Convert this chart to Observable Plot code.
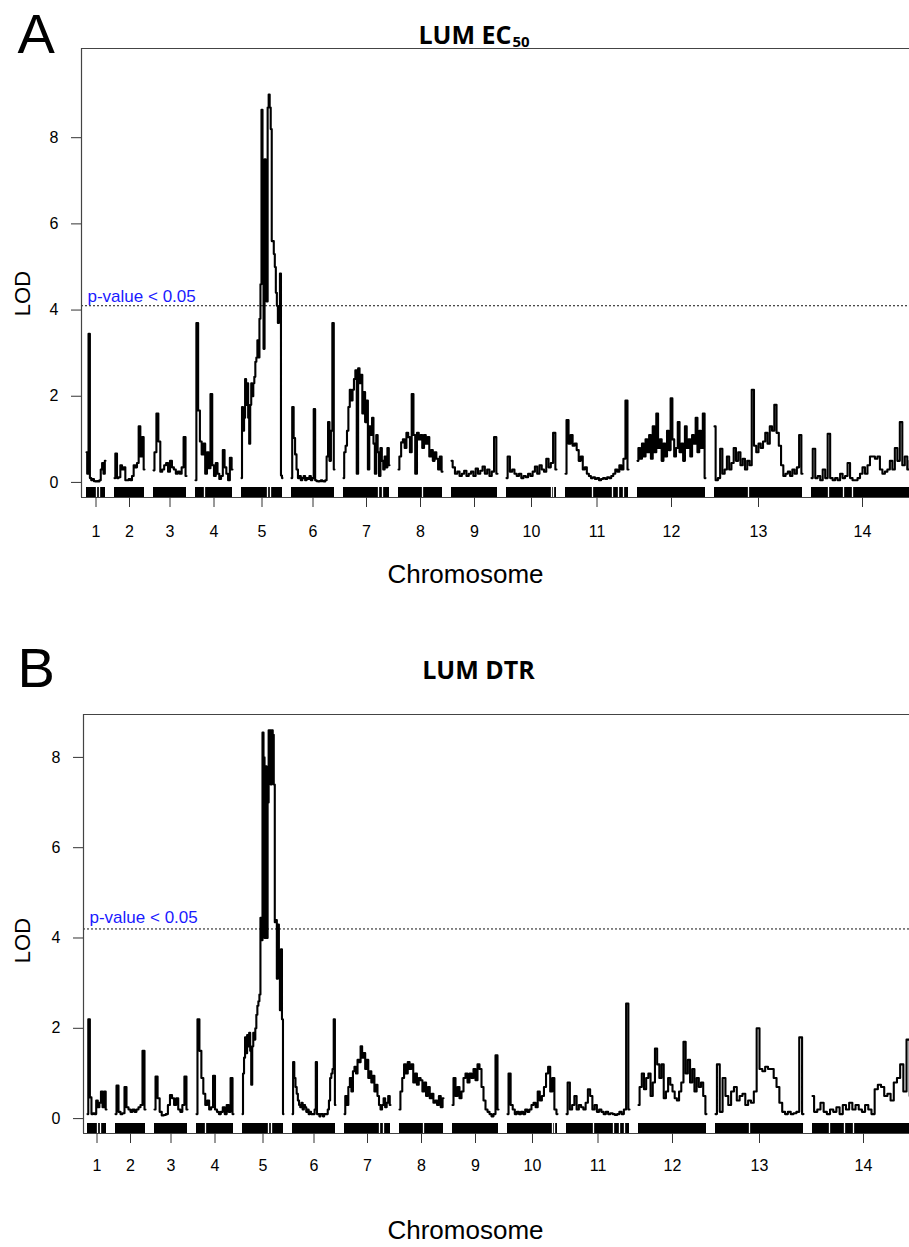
<!DOCTYPE html>
<html><head><meta charset="utf-8">
<script src="https://cdn.jsdelivr.net/npm/d3@7"></script>
<script src="https://cdn.jsdelivr.net/npm/@observablehq/plot@0.6"></script>
<style>
body{margin:0;background:#fff;overflow:hidden;width:909px;height:1247px}
#root{position:relative;width:909px;height:1247px;background:#fff}
svg{display:block}
</style></head><body><div id="root"></div>
<script>
// ---- genetic map ----
const chromosomes = ["1","2","3","4","5","6","7","8","9","10","11","12","13","14"];
const chromLength = [19, 30, 33, 37, 41, 43, 46, 44, 46, 50, 63, 68, 88, 102];
const chromGap = 9;
// gaps in the marker rug (chromosome, position within chromosome)
const gapChrom = [1, 1, 4, 5, 5, 7, 7, 8, 10, 10, 11, 11, 11, 11, 13, 14, 14, 14];
const gapPos   = [10, 13, 9, 26, 29, 35, 39, 24, 45, 47, 27, 47, 53, 58, 34, 17, 32, 41];

// ---- thresholds ----
const thresholdEC50 = 4.1;
const thresholdDTR = 4.2;
const yTicks = [0, 2, 4, 6, 8];

// ---- LOD scores, LUM EC50 (one list per chromosome, markers evenly spread) ----
const lodEC50 = [
  [0.7, 0.2, 3.45, 0.1, 0.05, 0.08, 0.03, 0.02, 0.03, 0.02, 0.05, 0.3, 0.45, 0.2, 0.5],
  [0.1, 0.67, 0.1, 0.12, 0.4, 0.3, 0.35, 0.05, 0.05, 0.08, 0.05, 0.15, 0.4, 0.35, 0.45, 1.3, 0.6, 1.05, 0.3],
  [0.28, 0.7, 1.6, 0.95, 0.25, 0.3, 0.4, 0.45, 0.25, 0.5, 0.35, 0.3, 0.2, 0.25, 0.2, 0.35, 1.05, 0.15],
  [0.05, 3.7, 1.67, 0.95, 0.65, 0.9, 0.2, 0.7, 0.33, 2.05, 0.4, 0.15, 0.45, 0.2, 0.08, 0.15, 0.75, 0.35, 0.2, 0.05, 0.57, 0.3],
  [0.1, 1.75, 1.2, 1.5, 2.4, 1.8, 2.3, 1.5, 0.9, 1.8, 2.3, 2.0, 2.3, 2.45, 2.8, 2.9, 3.3, 2.9, 3.8, 4.6, 8.65, 5.5, 3.1, 7.5, 5.9, 4.2, 8.7, 9.0, 8.7, 8.2, 5.6, 5.6, 5.3, 5.0, 4.4, 4.1, 3.7, 3.8, 4.85, 0.16, 0.1],
  [0.1, 1.75, 1.03, 0.65, 0.3, 0.1, 0.15, 0.05, 0.1, 0.15, 0.05, 0.1, 0.08, 0.15, 0.05, 0.1, 1.7, 0.05, 0.03, 0.02, 0.03, 0.05, 0.03, 0.02, 0.05, 0.6, 1.4, 0.5, 1.2, 3.7, 0.3],
  [0.1, 0.7, 0.85, 1.2, 1.75, 2.15, 1.9, 2.15, 2.4, 2.6, 0.2, 2.65, 2.3, 2.5, 1.6, 2.1, 1.4, 1.9, 0.3, 1.3, 1.1, 1.5, 0.9, 0.2, 1.1, 0.7, 0.15, 0.8, 0.5, 0.3, 0.6, 0.35, 0.8, 0.4],
  [0.3, 0.6, 0.93, 1.0, 0.8, 1.15, 1.05, 0.7, 2.05, 1.1, 0.2, 1.15, 1.0, 1.1, 0.8, 1.1, 0.9, 1.05, 0.6, 0.75, 0.5, 0.7, 0.55, 0.3, 0.6, 0.25],
  [0.5, 0.35, 0.2, 0.25, 0.15, 0.2, 0.27, 0.15, 0.2, 0.25, 0.15, 0.32, 0.2, 0.27, 0.37, 0.2, 0.3, 0.15, 0.25, 1.05, 0.2],
  [0.1, 0.6, 0.25, 0.3, 0.2, 0.15, 0.2, 0.1, 0.15, 0.12, 0.2, 0.15, 0.25, 0.37, 0.2, 0.4, 0.3, 0.25, 0.55, 0.35, 0.45, 1.15, 0.3],
  [0.2, 1.45, 0.9, 1.1, 0.85, 0.9, 0.75, 0.5, 0.6, 0.3, 0.35, 0.2, 0.15, 0.1, 0.12, 0.08, 0.1, 0.05, 0.08, 0.1, 0.08, 0.12, 0.1, 0.15, 0.2, 0.3, 0.25, 0.4, 0.3, 0.55, 1.9, 0.3],
  [0.5, 0.8, 0.55, 0.9, 0.6, 1.0, 0.7, 1.1, 0.55, 1.3, 0.7, 1.6, 0.8, 1.0, 0.5, 0.9, 0.6, 1.2, 0.75, 1.95, 1.0, 0.6, 0.8, 1.4, 0.7, 0.9, 0.5, 1.3, 0.8, 1.0, 0.6, 1.1, 0.9, 1.5, 0.7, 1.2, 0.8, 1.6, 0.1],
  [1.3, 0.05, 0.1, 0.78, 0.2, 0.3, 0.6, 0.3, 0.45, 0.8, 0.5, 0.7, 0.4, 0.55, 0.3, 0.5, 0.4, 2.15, 0.85, 0.7, 0.9, 0.8, 0.95, 1.15, 0.9, 1.3, 1.2, 1.8, 1.15, 0.85, 0.4, 0.15, 0.2, 0.25, 0.15, 0.3, 0.2, 0.35, 1.1, 0.2],
  [0.1, 0.78, 0.1, 0.15, 0.05, 0.3, 0.1, 1.13, 0.1, 0.05, 0.1, 0.05, 0.2, 0.1, 0.15, 0.45, 0.1, 0.05, 0.05, 0.1, 0.2, 0.35, 0.2, 0.4, 0.6, 0.6, 0.55, 0.6, 0.3, 0.2, 0.25, 0.3, 0.5, 0.3, 0.8, 0.5, 1.4, 0.4, 0.6, 0.3, 0.5, 0.4]
];

// ---- LOD scores, LUM DTR ----
const lodDTR = [
  [0.1, 2.2, 0.47, 0.1, 0.12, 0.1, 0.4, 0.25, 0.35, 0.6, 0.25, 0.6, 0.2],
  [0.1, 0.73, 0.15, 0.1, 0.12, 0.7, 0.25, 0.2, 0.15, 0.2, 0.15, 0.2, 0.25, 0.3, 1.5, 0.2],
  [0.2, 0.93, 0.45, 0.15, 0.07, 0.08, 0.1, 0.3, 0.52, 0.45, 0.3, 0.45, 0.2, 0.15, 0.3, 0.93, 0.2],
  [0.1, 2.2, 1.5, 0.9, 0.55, 0.3, 0.4, 0.2, 0.25, 0.95, 0.2, 0.15, 0.1, 0.15, 0.25, 0.1, 0.3, 0.15, 0.9, 0.1],
  [0.1, 1.0, 1.35, 1.8, 1.45, 1.85, 1.6, 1.9, 1.5, 0.75, 1.6, 1.9, 1.75, 2.0, 2.3, 2.5, 2.6, 2.75, 4.45, 3.95, 8.55, 8.0, 4.0, 7.8, 4.0, 7.0, 8.6, 8.6, 7.4, 8.6, 8.5, 7.4, 4.35, 4.4, 3.1, 4.3, 3.55, 2.4, 3.75, 2.2, 0.1],
  [0.1, 1.25, 0.9, 0.7, 0.55, 0.4, 0.3, 0.25, 0.35, 0.2, 0.3, 0.25, 0.15, 0.2, 0.1, 0.15, 0.1, 0.1, 0.1, 0.2, 1.25, 0.1, 0.1, 0.05, 0.1, 0.1, 0.05, 0.1, 0.1, 0.1, 0.2, 0.4, 0.9, 1.0, 1.1, 2.2, 0.3],
  [0.1, 0.5, 0.3, 0.7, 0.9, 0.6, 1.05, 1.15, 1.0, 1.3, 1.25, 1.6, 1.35, 1.45, 1.1, 1.3, 0.9, 1.05, 0.8, 0.95, 0.6, 0.75, 0.5, 0.3, 0.2, 0.3, 0.45, 0.25, 0.35, 0.5, 0.3],
  [0.2, 0.6, 0.9, 1.2, 1.0, 1.25, 1.1, 1.2, 0.8, 1.0, 0.75, 0.9, 0.85, 0.6, 0.8, 0.5, 0.7, 0.45, 0.55, 0.35, 0.4, 0.3, 0.5, 0.25, 0.45],
  [0.3, 0.9, 0.5, 0.7, 0.45, 0.6, 0.9, 1.0, 0.8, 1.0, 0.9, 1.1, 0.85, 1.2, 1.1, 0.7, 0.4, 0.2, 0.15, 0.1, 0.05, 0.1, 1.4, 0.2],
  [0.1, 1.0, 0.3, 0.2, 0.1, 0.15, 0.1, 0.15, 0.1, 0.2, 0.15, 0.2, 0.3, 0.35, 0.25, 0.6, 0.4, 0.5, 0.7, 1.0, 1.15, 0.6, 0.9, 0.2, 0.1],
  [0.1, 0.8, 0.2, 0.3, 0.5, 0.2, 0.3, 0.25, 0.2, 0.35, 0.65, 0.5, 0.2, 0.3, 0.15, 0.2, 0.15, 0.1, 0.15, 0.1, 0.12, 0.1, 0.08, 0.1, 0.15, 0.1, 0.2, 2.55, 0.2],
  [0.3, 0.7, 1.0, 0.65, 0.9, 1.0, 0.5, 0.8, 1.55, 1.2, 0.9, 1.2, 0.45, 0.6, 0.9, 0.75, 0.6, 0.45, 0.4, 0.6, 0.8, 1.7, 1.0, 1.3, 0.8, 1.1, 0.6, 0.9, 0.7, 0.8, 0.5, 0.1],
  [0.1, 1.2, 0.15, 0.9, 0.5, 0.3, 0.6, 0.7, 0.4, 0.5, 0.55, 0.3, 0.4, 0.35, 0.6, 2.0, 1.1, 1.05, 1.15, 1.1, 1.1, 0.9, 0.7, 0.35, 0.15, 0.1, 0.15, 0.1, 0.12, 0.15, 1.8, 0.1],
  [0.5, 0.15, 0.2, 0.35, 0.15, 0.1, 0.2, 0.15, 0.25, 0.1, 0.3, 0.2, 0.35, 0.2, 0.3, 0.2, 0.15, 0.3, 0.2, 0.1, 0.65, 0.75, 0.7, 0.5, 0.55, 0.4, 0.8, 0.9, 1.2, 0.6, 1.75, 0.5, 0.3]
];

// ---- derived layout of the genome axis ----
const starts = [];
{ let acc = 0; chromLength.forEach(L => { starts.push(acc); acc += L + chromGap; }); }
const centers = starts.map((s, i) => s + chromLength[i] / 2);
const chromRows = chromosomes.map((c, i) => ({chr: c, start: starts[i], end: starts[i] + chromLength[i]}));
const gapRows = gapChrom.map((c, i) => ({pos: starts[c - 1] + gapPos[i]}));

function scanRows(lods) {
  const rows = [];
  lods.forEach((vals, c) => {
    const n = vals.length;
    vals.forEach((v, i) => rows.push({chr: chromosomes[c], pos: starts[c] + chromLength[c] * i / (n - 1), lod: v}));
  });
  return rows;
}

const FONT = "'Liberation Sans', Arial, sans-serif";
const TITLEFONT = "'Open Sans', 'Liberation Sans', sans-serif";

function panel(o) {
  const W = 909;
  const xDomain = [o.x0, o.x0 + (W - o.marginLeft)];
  const pxPerUnit = (o.height - o.marginTop - o.marginBottom) / (o.yDomain[1] - o.yDomain[0]);
  const rugTop = o.yDomain[0] + 10 / pxPerUnit;
  const frameCx = (o.marginLeft + W) / 2;
  const marks = [
    Plot.rect(chromRows, {x1: "start", x2: "end", y1: o.yDomain[0], y2: rugTop, fill: "black"}),
    Plot.ruleX(gapRows, {x: "pos", y1: o.yDomain[0], y2: rugTop, stroke: "white", strokeWidth: 1.3}),
    Plot.ruleY([o.threshold], {stroke: "#111", strokeWidth: 1, strokeDasharray: "2,2"}),
    Plot.line(scanRows(o.lods), {x: "pos", y: "lod", z: "chr", curve: "step", stroke: "black", strokeWidth: 2.1}),
    Plot.ruleX([xDomain[0]], {stroke: "#444", strokeWidth: 1.2}),
    Plot.ruleY([o.yDomain[0], o.yDomain[1]], {stroke: "#444", strokeWidth: 1.2}),
    Plot.axisY(yTicks, {anchor: "left", tickSize: 10, tickPadding: 13, label: null, fontSize: 16, stroke: "#333"}),
    Plot.axisX(centers, {anchor: "bottom", tickSize: 10, tickPadding: o.xTickPad, label: null, fontSize: 16, stroke: "#333",
      tickFormat: d => chromosomes[centers.indexOf(d)]}),
    Plot.text([o.threshold], {y: d => d, frameAnchor: "left", text: () => "p-value < 0.05", dx: 6, dy: o.pDy,
      fill: "#1a1aff", fontSize: 17, textAnchor: "start", lineAnchor: "bottom"}),
    Plot.text(["LOD"], {frameAnchor: "left", rotate: -90, dx: o.lodX - o.marginLeft, dy: o.lodY - (o.marginTop + o.height - o.marginBottom) / 2,
      fontSize: 22, textAnchor: "middle", lineAnchor: "middle"}),
    Plot.text(["Chromosome"], {frameAnchor: "bottom", dx: 465 - frameCx, dy: o.chromY - (o.height - o.marginBottom),
      fontSize: 26, textAnchor: "middle", lineAnchor: "middle"}),
    Plot.text([o.letter], {frameAnchor: "top-left", dx: 17 - o.marginLeft, dy: o.letterBase - o.marginTop,
      fontSize: 56, textAnchor: "start", lineAnchor: "bottom"}),
    Plot.text([o.title], {frameAnchor: "top", dx: o.titleX - frameCx, dy: o.titleBase - o.marginTop,
      fontSize: 25, fontWeight: "bold", fontFamily: TITLEFONT, textAnchor: o.sub ? "end" : "middle", lineAnchor: "bottom"})
  ];
  if (o.sub) {
    marks.push(Plot.text([o.sub], {frameAnchor: "top", dx: o.titleX + 1 - frameCx, dy: o.titleBase + 3 - o.marginTop,
      fontSize: 15, fontWeight: "bold", fontFamily: TITLEFONT, textAnchor: "start", lineAnchor: "bottom"}));
  }
  return Plot.plot({
    width: W, height: o.height,
    marginTop: o.marginTop, marginBottom: o.marginBottom, marginLeft: o.marginLeft, marginRight: 0,
    x: {domain: xDomain, axis: null},
    y: {domain: o.yDomain, axis: null},
    style: {fontFamily: FONT, fontSize: "16px", background: "white", color: "black", overflow: "hidden"},
    marks
  });
}

const root = document.getElementById("root");
root.appendChild(panel({
  lods: lodEC50, threshold: thresholdEC50, letter: "A", title: "LUM EC", sub: "50",
  height: 620, marginTop: 48, marginBottom: 123, marginLeft: 81, x0: -5, yDomain: [-0.35, 10.07],
  xTickPad: 18, pDy: -4, lodX: 22, lodY: 293, chromY: 574, letterBase: 52, titleX: 511, titleBase: 43
}));
root.appendChild(panel({
  lods: lodDTR, threshold: thresholdDTR, letter: "B", title: "LUM DTR", sub: null,
  height: 627, marginTop: 94, marginBottom: 114, marginLeft: 83, x0: -4, yDomain: [-0.33, 8.95],
  xTickPad: 16, pDy: -6, lodX: 22, lodY: 320, chromY: 610, letterBase: 66, titleX: 478, titleBase: 58
}));
</script></body></html>
